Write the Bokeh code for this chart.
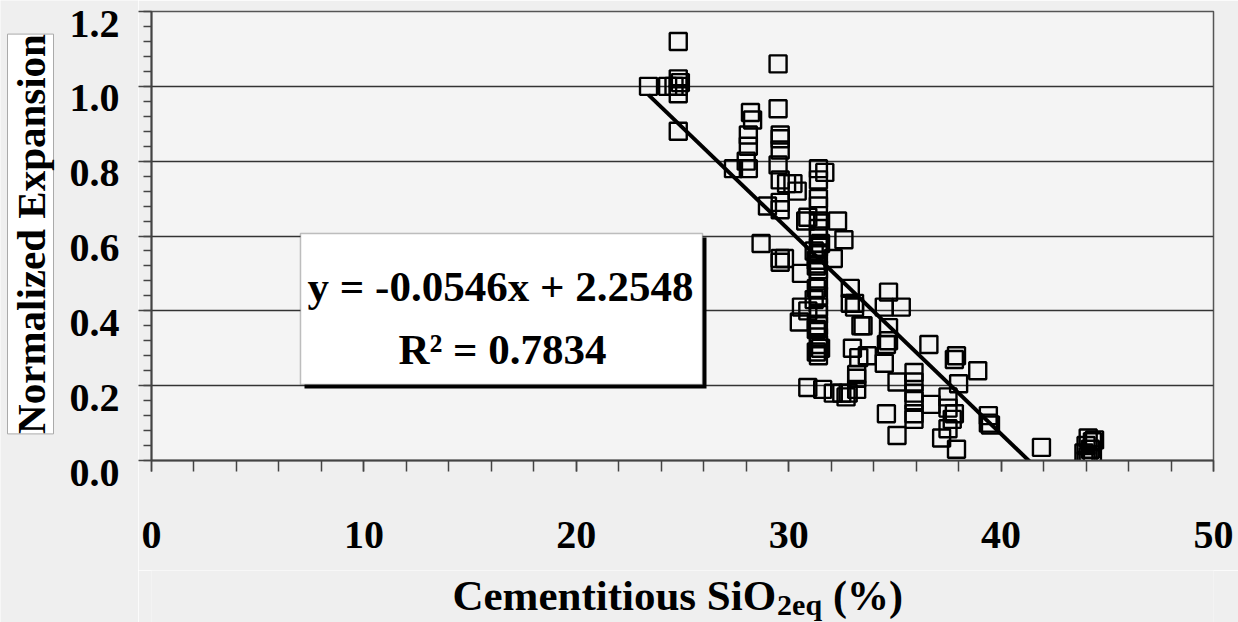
from bokeh.plotting import figure
from bokeh.layouts import row, column
from bokeh.models import (Range1d, FixedTicker, Label, LabelSet, BoxAnnotation,
                          ColumnDataSource, CustomJSTickFormatter)
from bokeh.embed import file_html
from bokeh.resources import INLINE

# ---- data ----
x_vals = [24.8, 23.4, 24.3, 24.6, 24.8, 24.8, 24.8, 24.9, 24.8,
          29.5, 29.5, 28.2, 28.3, 28.1, 28.1, 28.0, 28.1, 27.4,
          29.6, 29.6, 29.6, 29.5, 29.6, 29.9, 30.2, 30.4, 29.0, 29.6, 29.6,
          31.4, 31.7, 31.4, 31.4, 31.4, 30.9, 30.8, 32.3, 31.4, 31.4, 31.4,
          28.7, 32.6, 31.4, 29.6, 29.8, 31.4, 31.3, 32.1, 29.6, 30.6, 31.4,
          31.4, 32.9, 31.3, 30.6, 30.9, 30.5, 31.4, 31.4, 31.4, 31.4, 31.4,
          31.4, 31.4, 33.1, 33.4, 33.0, 33.3, 33.2, 30.9, 31.6, 32.1, 32.5,
          32.8, 33.2, 34.7, 35.3, 34.5, 33.5, 34.7, 34.7, 34.6, 33.7, 34.5,
          36.6, 37.8, 37.9, 38.9, 35.9, 35.9, 35.1, 38.0, 33.2, 32.7, 35.9,
          35.9, 35.9, 35.9, 36.7, 37.5, 37.5, 37.8, 37.7, 37.5, 37.2, 37.9,
          34.6, 35.1, 39.4, 39.4, 39.5, 41.9,
          44.1, 44.3, 44.0, 44.2, 43.9, 44.3, 44.1, 44.4, 44.0,
          31.2, 31.3, 31.5, 31.2, 31.3, 31.5, 31.3, 33.1, 32.9]
y_vals = [1.12, 1.00, 1.00, 1.00, 1.00, 1.02, 0.98, 1.01, 0.88,
          1.06, 0.94, 0.93, 0.91, 0.87, 0.84, 0.80, 0.78, 0.78,
          0.87, 0.86, 0.83, 0.79, 0.75, 0.74, 0.74, 0.72, 0.68, 0.69, 0.67,
          0.78, 0.77, 0.75, 0.70, 0.68, 0.65, 0.64, 0.64, 0.64, 0.62, 0.60,
          0.58, 0.59, 0.57, 0.54, 0.54, 0.55, 0.535, 0.54, 0.53, 0.50, 0.51,
          0.48, 0.46, 0.46, 0.41, 0.40, 0.37, 0.44, 0.41, 0.39, 0.36, 0.33,
          0.31, 0.28, 0.42, 0.36, 0.30, 0.275, 0.23, 0.195, 0.19, 0.18, 0.18,
          0.18, 0.19, 0.45, 0.41, 0.41, 0.36, 0.355, 0.32, 0.31, 0.28, 0.26,
          0.31, 0.27, 0.28, 0.24, 0.235, 0.21, 0.21, 0.205, 0.22, 0.17, 0.18,
          0.16, 0.125, 0.11, 0.15, 0.17, 0.14, 0.125, 0.11, 0.085, 0.06, 0.03,
          0.125, 0.067, 0.12, 0.10, 0.095, 0.035,
          0.06, 0.05, 0.04, 0.03, 0.02, 0.015, 0.01, 0.055, 0.00,
          0.56, 0.52, 0.58, 0.43, 0.35, 0.30, 0.29, 0.41, 0.42]
slope = -0.0546
intercept = 2.2548
r_squared = 0.7834
x_ticks = [0, 10, 20, 30, 40, 50]
y_ticks = [0.0, 0.2, 0.4, 0.6, 0.8, 1.0, 1.2]
y_tick_labels = ["0.0", "0.2", "0.4", "0.6", "0.8", "1.0", "1.2"]
x_title_main = "Cementitious SiO"
x_title_sub = "2eq"
x_title_tail = "(%)"
y_title = "Normalized Expansion"

# ---- layout constants (page pixels) ----
W, H = 1238, 622
L, R, T, B = 151, 1213, 11, 460     # plot frame on the page
LEFT_W = 138                         # strip holding y title and y tick labels
XT_TOP = 570                         # top of the x-title strip
X0, X1, Y0, Y1 = 0, 50, 0, 1.2
LABEL_DROP_PX = 12                   # y tick labels sit a little below their ticks

def px_x(px):
    return X0 + (px - L) / (R - L) * (X1 - X0)

def px_y(py):
    return Y0 + (B - py) / (B - T) * (Y1 - Y0)

FONT = "Liberation Serif"
OUT_BG = "#efefef"
IN_BG = "#f4f4f4"

def bare(fig):
    fig.background_fill_color = OUT_BG
    fig.border_fill_color = OUT_BG
    fig.outline_line_color = None
    fig.grid.visible = False

# ---- main chart ----
p = figure(width=W - LEFT_W, height=XT_TOP, output_backend="svg", toolbar_location=None,
           x_range=Range1d(X0, X1), y_range=Range1d(Y0, Y1),
           min_border_left=L - LEFT_W, min_border_right=W - R, min_border_top=T,
           min_border_bottom=XT_TOP - B)
p.background_fill_color = IN_BG
p.border_fill_color = OUT_BG
p.outline_line_color = "#555555"
p.outline_line_width = 1.5

p.xgrid.visible = False
p.ygrid.grid_line_color = "#333333"
p.ygrid.grid_line_width = 1.4
p.ygrid.ticker = FixedTicker(ticks=y_ticks)

y_minor = [round(i * 0.04, 2) for i in range(31)]
x_minor = list(range(0, 51, 2))
p.yaxis.ticker = FixedTicker(ticks=y_ticks, minor_ticks=y_minor)
p.xaxis.ticker = FixedTicker(ticks=x_ticks, minor_ticks=x_minor)

for ax in (p.xaxis[0], p.yaxis[0]):
    ax.axis_line_color = "#444444"
    ax.axis_line_width = 2
    ax.major_tick_line_color = "#444444"
    ax.minor_tick_line_color = "#444444"
    ax.major_tick_line_width = 1.5
    ax.minor_tick_line_width = 1.5
    ax.major_tick_in = 0
    ax.minor_tick_in = 0
    ax.major_label_text_font = FONT
    ax.major_label_text_font_style = "bold"
    ax.major_label_text_font_size = "40px"
    ax.major_label_text_color = "black"

p.xaxis.major_tick_out = 11
p.xaxis.minor_tick_out = 11
p.xaxis.major_label_standoff = 50

p.yaxis.major_tick_out = 13
p.yaxis.minor_tick_out = 8
p.yaxis.major_label_standoff = 0
p.yaxis.formatter = CustomJSTickFormatter(code="return ''")

# data
src = ColumnDataSource(data=dict(x=x_vals, y=y_vals))
p.scatter("x", "y", source=src, marker="square", size=17,
          fill_color=None, line_color="black", line_width=2.4)

# trendline
tx = [min(x_vals), max(x_vals)]
ty = [slope * v + intercept for v in tx]
p.line(tx, ty, line_color="black", line_width=4)

# equation box with shadow
p.add_layout(BoxAnnotation(left=px_x(304), right=px_x(706), top=px_y(237), bottom=px_y(388),
                           fill_color="black", fill_alpha=1, line_color=None))
p.add_layout(BoxAnnotation(left=px_x(300), right=px_x(702), top=px_y(233), bottom=px_y(384),
                           fill_color="white", fill_alpha=1, line_color="#333333", line_width=1.5))
eq1 = f"y = {slope:.4f}x + {intercept:.4f}"
eq2 = f"R\u00b2 = {r_squared:.4f}"
p.add_layout(Label(x=px_x(500), y=px_y(286), text=eq1, text_align="center",
                   text_baseline="middle", text_font=FONT, text_font_style="bold",
                   text_font_size="43px", text_color="black"))
p.add_layout(Label(x=px_x(502), y=px_y(349), text=eq2, text_align="center",
                   text_baseline="middle", text_font=FONT, text_font_style="bold",
                   text_font_size="43px", text_color="black"))

# ---- left strip: y title and y tick labels (same vertical scale as the chart) ----
fy = figure(width=LEFT_W, height=H, output_backend="svg", toolbar_location=None,
            x_range=Range1d(0, LEFT_W), y_range=Range1d(px_y(H), px_y(0)),
            x_axis_type=None, y_axis_type=None, min_border=0)
bare(fy)
drop = LABEL_DROP_PX * (Y1 - Y0) / (B - T)
tick_src = ColumnDataSource(data=dict(
    x=[119] * len(y_ticks),
    y=[v - drop for v in y_ticks],
    text=y_tick_labels))
fy.add_layout(LabelSet(x="x", y="y", text="text", source=tick_src, text_align="right",
                       text_baseline="middle", text_font=FONT, text_font_style="bold",
                       text_font_size="40px", text_color="black"))
fy.add_layout(Label(x=30, y=px_y(233.5), text=y_title, angle=90, angle_units="deg",
                    text_align="center", text_baseline="middle", text_font=FONT,
                    text_font_style="bold", text_font_size="41px", text_color="black",
                    background_fill_color="white", border_line_color="#aaaaaa",
                    border_line_width=1))

# ---- bottom strip: x title with subscript ----
fx = figure(width=W - LEFT_W, height=H - XT_TOP, output_backend="svg", toolbar_location=None,
            x_range=Range1d(LEFT_W, W), y_range=Range1d(H, XT_TOP),
            x_axis_type=None, y_axis_type=None, min_border=0)
bare(fx)
fx.add_layout(Label(x=785, y=595, text=x_title_main, text_align="right",
                    text_baseline="middle", text_font=FONT, text_font_style="bold",
                    text_font_size="43px", text_color="black"))
fx.add_layout(Label(x=786, y=604, text=x_title_sub, text_align="left",
                    text_baseline="middle", text_font=FONT, text_font_style="bold",
                    text_font_size="30px", text_color="black"))
fx.add_layout(Label(x=844, y=595, text=x_title_tail, text_align="left",
                    text_baseline="middle", text_font=FONT, text_font_style="bold",
                    text_font_size="42px", text_color="black"))

layout = row(fy, column(p, fx))
open("out.html", "w").write(file_html(layout, INLINE))
